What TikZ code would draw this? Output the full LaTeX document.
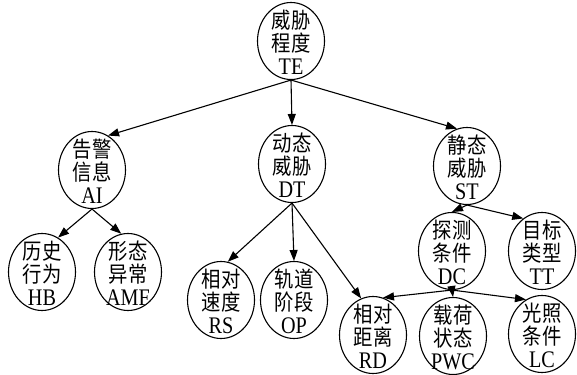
\documentclass[tikz,border=0pt]{standalone}
\usepackage{fontspec}
\setmainfont{Liberation Serif}[FakeStretch=0.85, Scale=1.08]
\newfontfamily\cjk{Noto Sans CJK SC}[FakeStretch=0.88]
\usetikzlibrary{shapes.geometric,arrows.meta}

\tikzset{
  factor/.style={ellipse, draw, line width=1.1pt, minimum width=67pt,
    minimum height=77pt, inner sep=0pt},
  txt/.style={align=center, inner sep=0pt, yshift=-1.5pt,
    font=\fontsize{22}{23}\selectfont},
  link/.style={line width=1.1pt, -{Triangle[length=11pt,width=8pt]}},
}
% three-line node text: two Chinese lines and a Latin abbreviation
\newcommand\fac[3]{{\cjk #1}\\{\cjk #2}\\#3}

\begin{document}
\begin{tikzpicture}[x=1pt,y=-1pt]
\useasboundingbox (0,0) rectangle (577,374);
\clip (0,0) rectangle (577,374);

% threat hierarchy
\node[factor, label={[txt]center:{\fac{威胁}{程度}{TE}}}] (TE) at (291,41) {};

\node[factor, label={[txt]center:{\fac{告警}{信息}{AI}}}] (AI) at (92,170) {};
\node[factor, label={[txt]center:{\fac{动态}{威胁}{DT}}}] (DT) at (292,164) {};
\node[factor, label={[txt]center:{\fac{静态}{威胁}{ST}}}] (ST) at (467,166) {};

\node[factor, label={[txt]center:{\fac{历史}{行为}{HB}}}] (HB) at (42,272) {};
\node[factor, label={[txt]center:{\fac{形态}{异常}{AMF}}}] (AMF) at (128,272) {};
\node[factor, label={[txt]center:{\fac{相对}{速度}{RS}}}] (RS) at (221,300) {};
\node[factor, label={[txt]center:{\fac{轨道}{阶段}{OP}}}] (OP) at (294,300) {};
\node[factor, label={[txt]center:{\fac{探测}{条件}{DC}}}] (DC) at (452,251) {};
\node[factor, label={[txt]center:{\fac{目标}{类型}{TT}}}] (TT) at (542,251) {};

\node[factor, label={[txt]center:{\fac{相对}{距离}{RD}}}] (RD) at (373,335) {};
\node[factor, label={[txt]center:{\fac{载荷}{状态}{PWC}}}] (PWC) at (453,336) {};
\node[factor, label={[txt]center:{\fac{光照}{条件}{LC}}}] (LC) at (542,334) {};

% connectors
\draw[link] (TE.south) -- (AI.65);
\draw[link] (TE.south) -- (DT.north);
\draw[link] (TE.south) -- (ST.105);

\draw[link] (AI.south) -- (HB.65);
\draw[link] (AI.south) -- (AMF.100);

\draw[link] (DT.south) -- (RS.80);
\draw[link] (DT.south) -- (OP.north);
\draw[link] (DT.south) -- (RD.108);

\draw[link] (ST.south) -- (DC.north);
\draw[link] (ST.south) -- (TT.120);

\draw[link] (DC.south) -- (RD.75);
\draw[link] (DC.south) -- (PWC.north);
\draw[link] (DC.south) -- (LC.115);
\end{tikzpicture}
\end{document}
